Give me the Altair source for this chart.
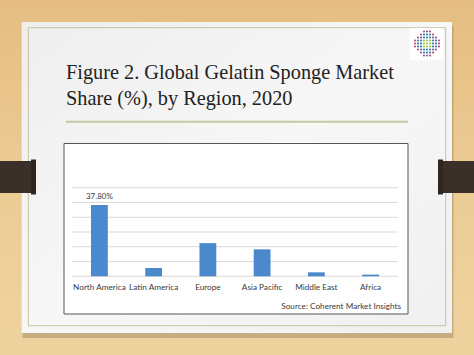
import altair as alt
import pandas as pd

# ---- data ----
regions = ["North America", "Latin America", "Europe", "Asia Pacific", "Middle East", "Africa"]
shares = [37.8, 4.4, 17.6, 14.3, 2.1, 0.9]
value_labels = ["37.80%", "", "", "", "", ""]
grid_values = [0, 7.8, 15.7, 23.5, 31.3, 39.2, 47]
title_lines = ["Figure 2. Global Gelatin Sponge Market", "Share (%), by Region, 2020"]
source_text = ["Source: Coherent Market Insights"]
logo_pattern = [
    "   mbm   ",
    "  mbbbm  ",
    " mbbbbbm ",
    "mbbgggbbm",
    "mbbgggbbm",
    "mbbgggbbm",
    " mbbbbbm ",
    "  mbbbm  ",
    "   mbm   ",
]

W, H = 474, 355
one = pd.DataFrame({"k": [0]})


def box(x1, x2, y1, y2, **kw):
    return alt.Chart(one).mark_rect(**kw).encode(
        x=alt.value(x1), x2=alt.value(x2), y=alt.value(y1), y2=alt.value(y2)
    )


def hline(x1, x2, y, **kw):
    return alt.Chart(one).mark_rule(**kw).encode(
        x=alt.value(x1), x2=alt.value(x2), y=alt.value(y)
    )


def text_at(x, y, txt, **kw):
    return alt.Chart(pd.DataFrame({"t": [txt]})).mark_text(**kw).encode(
        x=alt.value(x), y=alt.value(y), text="t:N"
    )


# background wood
wood = box(0, W, 0, H, fill=alt.LinearGradient(
    gradient="linear", x1=0, x2=0, y1=0, y2=1,
    stops=[alt.GradientStop(offset=0, color="#e5bd82"),
           alt.GradientStop(offset=0.5, color="#eccb94"),
           alt.GradientStop(offset=1, color="#efd39f")]))

shadow = box(22.5, 453.5, 26, 338, fill="#8c7656", opacity=0.4)
panel = box(21.7, 452, 22, 333, fill=alt.LinearGradient(
    gradient="linear", x1=0, x2=1, y1=0, y2=1,
    stops=[alt.GradientStop(offset=0, color="#eeeeee"),
           alt.GradientStop(offset=0.5, color="#f7f7f7"),
           alt.GradientStop(offset=1, color="#f0f0f0")]))
inner_border = box(28.3, 445.7, 27.7, 325.7, fill=None, stroke="#c5c59c", strokeWidth=1)

clip_l = box(0, 33, 161, 193, fill="#3a3029")
clip_l2 = box(31, 36, 159.5, 194.5, fill="#2f2620")
clip_r = box(441, W, 161, 193, fill="#3a3029")
clip_r2 = box(438, 443, 159.5, 194.5, fill="#2f2620")

logo_bg = box(410, 443, 28, 60, fill="#ffffff")
color_map = {"m": "#b8437f", "b": "#3373a8", "g": "#8dc63f"}
dots = []
for r, row in enumerate(logo_pattern):
    for c, ch in enumerate(row):
        if ch != " ":
            dots.append({"px": 415.0 + c * 3.0, "py": 31.5 + r * 3.0, "col": color_map[ch]})
logo = alt.Chart(pd.DataFrame(dots)).mark_circle(size=4.5, opacity=1).encode(
    x=alt.X("px:Q", scale=None, axis=None),
    y=alt.Y("py:Q", scale=None, axis=None),
    color=alt.Color("col:N", scale=None, legend=None),
)

title1 = text_at(66, 79, title_lines[0], font="Liberation Serif", fontSize=20.3,
                 align="left", baseline="alphabetic", color="#222222")
title2 = text_at(66, 105, title_lines[1], font="Liberation Serif", fontSize=20.3,
                 align="left", baseline="alphabetic", color="#222222")
title_rule = hline(66, 408, 121.7, color="#c8c8a0", strokeWidth=2)

chart_box = box(64, 408, 143.5, 314, fill="#ffffff", stroke="#555555", strokeWidth=1)

# ---- bar chart ----
df = pd.DataFrame({"region": regions, "share": shares, "label": value_labels})
xscale = alt.Scale(type="band", domain=regions, range=[72.3, 397.7],
                   paddingInner=0.69, paddingOuter=0.345)
yscale = alt.Scale(domain=[0, 47], range=[276.3, 187.7], nice=False, zero=True)

grid = alt.Chart(pd.DataFrame({"g": grid_values})).mark_rule(color="#d9d9d9", strokeWidth=1).encode(
    y=alt.Y("g:Q", scale=yscale, axis=None),
    x=alt.value(72.3), x2=alt.value(397.7),
)
bars = alt.Chart(df).mark_bar(color="#4a89cc").encode(
    x=alt.X("region:N", scale=xscale, axis=None, sort=regions),
    y=alt.Y("share:Q", scale=yscale, axis=None),
)
value_text = alt.Chart(df).mark_text(font="Lato", fontSize=8, color="#404040",
                                     baseline="middle", dy=-8.5).encode(
    x=alt.X("region:N", scale=xscale, axis=None, sort=regions),
    y=alt.Y("share:Q", scale=yscale, axis=None),
    text="label:N",
)
cat_text = alt.Chart(df).mark_text(font="Lato", fontSize=8.2, color="#3a3a3a",
                                   baseline="middle").encode(
    x=alt.X("region:N", scale=xscale, axis=None, sort=regions),
    y=alt.value(287.5),
    text="region:N",
)
source = text_at(401, 306.7, source_text[0], font="Lato", fontSize=8.2,
                 align="right", baseline="middle", color="#3a3a3a")

chart = alt.layer(
    wood, shadow, panel, inner_border, clip_l, clip_l2, clip_r, clip_r2,
    logo_bg, logo, title1, title2, title_rule, chart_box,
    grid, bars, value_text, cat_text, source,
).resolve_scale(
    x="independent", y="independent", color="independent"
).properties(
    width=W, height=H, padding=0, autosize=alt.AutoSizeParams(type="none")
).configure_view(stroke=None)

chart.save("out.html", embed_options={"renderer": "svg", "actions": False})
